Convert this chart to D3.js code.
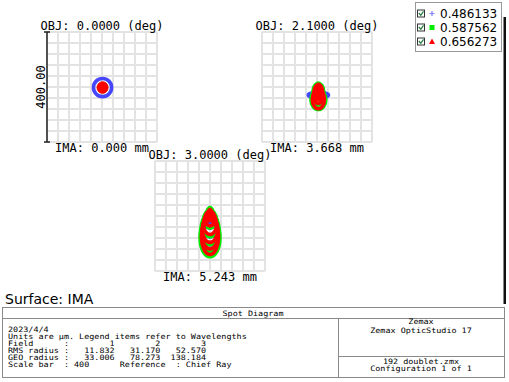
<!DOCTYPE html>
<html>
<head>
<meta charset="utf-8">
<script src="https://cdn.jsdelivr.net/npm/d3@7"></script>
<style>
body { margin: 0; background: #fff; }
svg { display: block; }
.mono { font-family: "DejaVu Sans Mono", monospace; white-space: pre; }
</style>
</head>
<body>
<div id="chart"></div>
<script>
// ---- data ----
var fieldLabels = ['OBJ: 0.0000 (deg)', 'OBJ: 2.1000 (deg)', 'OBJ: 3.0000 (deg)'];
var imaLabels = ['IMA: 0.000 mm', 'IMA: 3.668 mm', 'IMA: 5.243 mm'];
var wavelengths = ['0.486133', '0.587562', '0.656273'];
var scaleBarLabel = '400.00';
var gridTicks = [-200, -160, -120, -80, -40, 0, 40, 80, 120, 160, 200]; // um

// spot footprints (ray rings), um from chief ray: [cx, cy, rx, ry, filled]
var field1Blue = [[2, -2, 33, 33, 0]];
var field1Green = [[2, -2, 19, 19, 1]];
var field1Red = [[2, -2, 20, 21, 1]];

var field2Blue = [[5, -29, 37, 10, 0]];
var field2Green = [[5, -16, 24, 35, 1], [5, -31, 20, 35, 0], [5, -46, 27, 36, 0]];
var field2Red = [[5, -18, 20, 33, 1], [5, -28, 16, 32, 0], [5, -45, 22, 34, 0]];

var field3Blue = [[0, 0, 12, 21, 1], [0, -18, 18, 27, 0], [0, -38, 24, 38, 0], [0, -57, 28, 48, 0], [0, -74, 30, 55, 0], [0, -84, 31, 60, 0]];
var field3Green = [[0, 9, 16, 27, 1], [0, -12, 23, 32, 0], [0, -32, 29, 43, 0], [0, -51, 33, 53, 0], [0, -68, 35, 60, 0], [0, -81, 36, 67, 0]];
var field3Red = [[0, 8, 12, 21, 1], [0, -9, 18, 27, 0], [0, -29, 24, 38, 0], [0, -48, 28, 48, 0], [0, -65, 30, 55, 0], [0, -78, 31, 62, 0]];

var tableTitle = 'Spot Diagram';
var tableLines = [
	'2023/4/4',
	'Units are \u00b5m. Legend items refer to Wavelengths',
	'Field      :        1        2        3',
	'RMS radius :   11.832   31.170   52.570',
	'GEO radius :   33.006   78.273  138.184',
	'Scale bar  : 400      Reference  : Chief Ray'
];
var companyLines = ['Zemax', 'Zemax OpticStudio 17'];
var fileLines = ['192 doublet.zmx', 'Configuration 1 of 1'];

// ---- layout ----
var width = 509, height = 382;
var box = 110;
var panels = [
	{x: 47, y: 32, spots: [field1Blue, field1Green, field1Red]},
	{x: 262, y: 32, spots: [field2Blue, field2Green, field2Red]},
	{x: 155, y: 161, spots: [field3Blue, field3Green, field3Red]}
];
var colors = ['#4646ff', '#00ee00', '#ff0000'];

var svg = d3.select('#chart').append('svg')
	.attr('width', width).attr('height', height);

panels.forEach(function(p, i) {
	var x = d3.scaleLinear().domain([-200, 200]).range([p.x, p.x + box]);
	var y = d3.scaleLinear().domain([-200, 200]).range([p.y + box, p.y]);
	var k = x(1) - x(0);
	var g = svg.append('g');

	g.selectAll('.vline').data(gridTicks).enter().append('line')
		.attr('x1', function(d) { return x(d); }).attr('x2', function(d) { return x(d); })
		.attr('y1', y(-200)).attr('y2', y(200))
		.attr('stroke', '#e3e3e3').attr('stroke-width', 2);
	g.selectAll('.hline').data(gridTicks).enter().append('line')
		.attr('y1', function(d) { return y(d); }).attr('y2', function(d) { return y(d); })
		.attr('x1', x(-200)).attr('x2', x(200))
		.attr('stroke', '#e3e3e3').attr('stroke-width', 2);

	p.spots.forEach(function(rings, w) {
		g.append('g').selectAll('ellipse').data(rings).enter().append('ellipse')
			.attr('cx', function(d) { return x(d[0]); })
			.attr('cy', function(d) { return y(d[1]); })
			.attr('rx', function(d) { return d[2] * k; })
			.attr('ry', function(d) { return d[3] * k; })
			.attr('fill', function(d) { return d[4] ? colors[w] : 'none'; })
			.attr('stroke', colors[w])
			.attr('stroke-width', function(d) { return d[4] ? 1 : 3.6; });
	});

	g.append('text').attr('class', 'mono')
		.attr('x', p.x + box / 2).attr('y', p.y - 2)
		.attr('text-anchor', 'middle').attr('font-size', 12)
		.text(fieldLabels[i]);
	g.append('text').attr('class', 'mono')
		.attr('x', p.x + box / 2).attr('y', p.y + box + 10)
		.attr('text-anchor', 'middle').attr('font-size', 12)
		.text(imaLabels[i]);
});

// scale bar on the first panel
var sb = panels[0];
var sbar = svg.append('g').attr('stroke', '#222').attr('stroke-width', 1.5);
sbar.append('line').attr('x1', sb.x).attr('x2', sb.x).attr('y1', sb.y).attr('y2', sb.y + box);
sbar.append('line').attr('x1', sb.x - 3).attr('x2', sb.x + 3).attr('y1', sb.y).attr('y2', sb.y);
sbar.append('line').attr('x1', sb.x - 3).attr('x2', sb.x + 3).attr('y1', sb.y + box).attr('y2', sb.y + box);
svg.append('text').attr('class', 'mono')
	.attr('transform', 'translate(' + (sb.x - 2.5) + ',' + (sb.y + box / 2) + ') rotate(-90)')
	.attr('text-anchor', 'middle').attr('font-size', 12)
	.text(scaleBarLabel);

// legend
var leg = svg.append('g');
leg.append('rect').attr('x', 415.5).attr('y', 2.5).attr('width', 86).attr('height', 49)
	.attr('fill', '#fff').attr('stroke', '#999');
var rows = leg.selectAll('.row').data(wavelengths).enter().append('g')
	.attr('transform', function(d, i) { return 'translate(0,' + (13.5 + i * 14) + ')'; });
rows.append('rect').attr('x', 417.5).attr('y', -3.5).attr('width', 7).attr('height', 7)
	.attr('fill', '#fff').attr('stroke', '#333');
rows.append('path').attr('d', 'M418.8,-0.5 L420.8,1.8 L423.5,-2.2')
	.attr('fill', 'none').attr('stroke', '#1f7a3a').attr('stroke-width', 1.2);
rows.filter(function(d, i) { return i === 0; }).append('path')
	.attr('d', 'M429.5,0 h5 M432,-2.5 v5').attr('stroke', '#7f7fff').attr('stroke-width', 1.2);
rows.filter(function(d, i) { return i === 1; }).append('rect')
	.attr('x', 429.5).attr('y', -2.5).attr('width', 5).attr('height', 5).attr('fill', '#00ee00');
rows.filter(function(d, i) { return i === 2; }).append('path')
	.attr('d', 'M432,-3 L435,2.5 L429,2.5 Z').attr('fill', '#ff0000');
rows.append('text').attr('x', 440).attr('y', 4.4)
	.attr('font-family', 'DejaVu Sans, sans-serif').attr('font-size', 12)
	.text(function(d) { return d; });

// right edge bar
svg.append('rect').attr('x', 503.5).attr('y', 17).attr('width', 2.5).attr('height', 287).attr('fill', '#111');

// surface label
svg.append('text').attr('x', 5).attr('y', 303.5)
	.attr('font-family', 'DejaVu Sans, sans-serif').attr('font-size', 14)
	.text('Surface: IMA');

// info table
var t = svg.append('g').attr('fill', 'none').attr('stroke', '#8a8a8a').attr('stroke-width', 1);
t.append('rect').attr('x', 2.5).attr('y', 307.5).attr('width', 502).attr('height', 70);
t.append('line').attr('x1', 2.5).attr('x2', 504.5).attr('y1', 318.5).attr('y2', 318.5);
t.append('line').attr('x1', 338.5).attr('x2', 338.5).attr('y1', 318.5).attr('y2', 377.5);
t.append('line').attr('x1', 338.5).attr('x2', 504.5).attr('y1', 356.5).attr('y2', 356.5);

// condensed mono text: 5.08px per character
var fs = 7.4, cw = 5.08;
function mono(sel) {
	return sel.attr('class', 'mono').attr('font-size', fs)
		.attr('textLength', function(d) { return d.length * cw; })
		.attr('lengthAdjust', 'spacingAndGlyphs')
		.text(function(d) { return d; });
}
mono(svg.selectAll('.ttl').data([tableTitle]).enter().append('text')
	.attr('x', 253).attr('y', 316).attr('text-anchor', 'middle'));
mono(svg.selectAll('.info').data(tableLines).enter().append('text')
	.attr('x', 8).attr('y', function(d, i) { return 332 + i * 7; }));
mono(svg.selectAll('.comp').data(companyLines).enter().append('text')
	.attr('x', 421).attr('text-anchor', 'middle')
	.attr('y', function(d, i) { return 324 + i * 9; }));
mono(svg.selectAll('.file').data(fileLines).enter().append('text')
	.attr('x', 421).attr('text-anchor', 'middle')
	.attr('y', function(d, i) { return 363.5 + i * 7.5; }));
</script>
</body>
</html>
